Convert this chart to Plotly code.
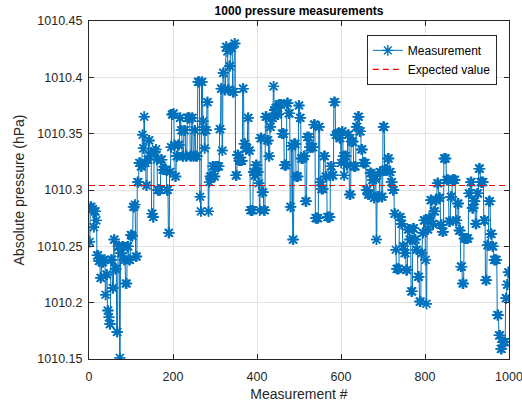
import numpy as np
import plotly.graph_objects as go

# Sample index where each held level starts (measurement #) and the level (hPa)
run_start = [
    0, 2, 6, 10, 12, 16, 18, 22, 26, 29, 34, 38, 40, 43, 46, 48, 51, 55, 58, 61,
    65, 68, 72, 74, 78, 82, 86, 90, 94, 98, 102, 104, 108, 110, 114, 118, 122, 126, 128, 130,
    132, 135, 138, 141, 144, 146, 148, 151, 154, 158, 160, 162, 167, 170, 174, 180, 184, 188, 191, 194,
    196,
    200, 202, 204, 207, 211, 215, 218, 221, 225, 229, 233, 237, 240, 244, 247, 250, 253, 258, 261, 263,
    265, 267, 270, 272, 274, 276, 280, 283, 285, 287, 293, 297, 300, 310, 313, 316, 318, 321, 325, 328,
    330, 333, 336, 341, 345, 348, 352, 356, 365, 368, 372, 377, 380, 383, 390, 393, 396,
    400, 403, 405, 407, 411, 415, 419, 423, 427, 430, 433, 438, 440, 443, 447, 451, 458, 464, 470, 474,
    478, 481, 484, 487, 492, 498, 501, 504, 510, 514, 518, 524, 534, 538, 546, 549, 552, 558, 562, 566,
    574, 578, 582, 586, 590, 595,
    599, 601, 604, 606, 608, 612, 615, 619, 623, 629, 635, 639, 643, 647, 651, 655, 659, 663, 668, 673,
    677, 680, 683, 685, 691, 695, 699, 703, 710, 714, 718, 722, 726, 729, 731, 738, 742, 746, 750, 754,
    758, 762, 766, 770, 774, 778, 782, 786, 790, 793, 796,
    800, 802, 804, 808, 812, 816, 820, 824, 828, 832, 836, 840, 844, 850, 856, 860, 864, 868, 872, 876,
    880, 884, 888, 892, 903, 907, 911, 915, 919, 923, 927, 931, 939, 943, 947, 951, 955, 959, 963, 971,
    975, 979, 983, 991, 994, 997,
]
run_level = [
    1010.254, 1010.285, 1010.283, 1010.267, 1010.281, 1010.273, 1010.242, 1010.237, 1010.222, 1010.236,
    1010.238, 1010.207, 1010.225, 1010.193, 1010.187, 1010.181, 1010.238, 1010.213, 1010.256, 1010.230,
    1010.174, 1010.250, 1010.151, 1010.244, 1010.250, 1010.238, 1010.217, 1010.250, 1010.238, 1010.260,
    1010.259, 1010.285, 1010.287, 1010.241, 1010.307, 1010.324, 1010.321, 1010.349, 1010.337, 1010.365,
    1010.324, 1010.304, 1010.327, 1010.344, 1010.330, 1010.333, 1010.279, 1010.276, 1010.334, 1010.336,
    1010.327, 1010.300, 1010.300, 1010.327, 1010.318, 1010.318, 1010.300, 1010.262, 1010.316, 1010.338,
    1010.367,
    1010.368, 1010.340, 1010.312, 1010.330, 1010.340, 1010.364, 1010.353, 1010.330, 1010.353, 1010.330,
    1010.364, 1010.364, 1010.330, 1010.364, 1010.330, 1010.353, 1010.330, 1010.396, 1010.396, 1010.294,
    1010.281, 1010.396, 1010.361, 1010.353, 1010.337, 1010.353, 1010.378, 1010.281, 1010.307, 1010.312,
    1010.321, 1010.312, 1010.321, 1010.354, 1010.390, 1010.335, 1010.404, 1010.389, 1010.427, 1010.423,
    1010.389, 1010.410, 1010.426, 1010.387, 1010.430, 1010.313, 1010.331, 1010.326, 1010.390, 1010.341,
    1010.337, 1010.364, 1010.335, 1010.282, 1010.316, 1010.313, 1010.322,
    1010.316, 1010.306, 1010.282, 1010.346, 1010.298, 1010.282, 1010.365, 1010.344, 1010.330, 1010.356,
    1010.364, 1010.392, 1010.371, 1010.373, 1010.367, 1010.376, 1010.350, 1010.322, 1010.377, 1010.368,
    1010.285, 1010.339, 1010.256, 1010.341, 1010.312, 1010.375, 1010.364, 1010.328, 1010.330, 1010.290,
    1010.347, 1010.338, 1010.358, 1010.275, 1010.356, 1010.307, 1010.301, 1010.330, 1010.312, 1010.276,
    1010.321, 1010.313, 1010.378, 1010.349, 1010.350, 1010.346,
    1010.324, 1010.352, 1010.330, 1010.313, 1010.330, 1010.322, 1010.349, 1010.296, 1010.343, 1010.321,
    1010.356, 1010.365, 1010.352, 1010.336, 1010.324, 1010.324, 1010.300, 1010.296, 1010.315, 1010.309,
    1010.293, 1010.310, 1010.256, 1010.294, 1010.316, 1010.294, 1010.356, 1010.318, 1010.328, 1010.316,
    1010.307, 1010.300, 1010.279, 1010.247, 1010.230, 1010.276, 1010.270, 1010.250, 1010.244, 1010.229,
    1010.265, 1010.256, 1010.210, 1010.266, 1010.256, 1010.247, 1010.223, 1010.201, 1010.244, 1010.262,
    1010.273,
    1010.238, 1010.199, 1010.265, 1010.275, 1010.291, 1010.270, 1010.281, 1010.291, 1010.306, 1010.293,
    1010.269, 1010.263, 1010.328, 1010.309, 1010.272, 1010.294, 1010.309, 1010.309, 1010.273, 1010.288,
    1010.264, 1010.232, 1010.217, 1010.257, 1010.297, 1010.307, 1010.284, 1010.290, 1010.270, 1010.297,
    1010.319, 1010.307, 1010.273, 1010.220, 1010.251, 1010.290, 1010.261, 1010.250, 1010.238, 1010.189,
    1010.171, 1010.159, 1010.165, 1010.204, 1010.216, 1010.227,
]
n_measurements = 1000
expected_value = 1010.304

x_ticks = [0, 200, 400, 600, 800, 1000]
x_tick_text = ["0", "200", "400", "600", "800", "1000"]
y_ticks = [1010.15, 1010.2, 1010.25, 1010.3, 1010.35, 1010.4, 1010.45]
y_tick_text = ["1010.15", "1010.2", "1010.25", "1010.3", "1010.35", "1010.4", "1010.45"]

counts = np.diff(np.array(run_start + [n_measurements]))
pressure = np.repeat(np.array(run_level), counts)
meas_idx = np.arange(1, len(pressure) + 1)

BLUE = "#0072BD"
AX = "#262626"
RED = "rgb(255,0,0)"
FONT = "Liberation Sans, Arial, Helvetica, sans-serif"

fig = go.Figure()
fig.add_trace(go.Scatter(
    x=meas_idx, y=pressure, mode="lines+markers", name="Measurement",
    line=dict(color=BLUE, width=1),
    marker=dict(symbol="asterisk-open", size=9, color=BLUE,
                line=dict(color=BLUE, width=1.4)),
))
fig.add_trace(go.Scatter(
    x=[0, n_measurements], y=[expected_value, expected_value], mode="lines",
    name="Expected value",
    line=dict(color=RED, width=1.2, dash="6px,4px"),
))

axis_common = dict(
    showline=True, linecolor=AX, linewidth=1, mirror="allticks",
    ticks="inside", ticklen=5, tickcolor=AX, tickwidth=1,
    showgrid=True, gridcolor="#E3E3E3", gridwidth=1, zeroline=False,
    tickfont=dict(family=FONT, size=12.5, color=AX),
    ticklabeloverflow="allow",
)
fig.update_xaxes(range=[0, 1000], tickvals=x_ticks, ticktext=x_tick_text,
                 ticklabelstandoff=6,
                 title=dict(text="Measurement #", font=dict(family=FONT, size=14, color=AX), standoff=8),
                 **axis_common)
fig.update_yaxes(range=[1010.15, 1010.45], tickvals=y_ticks, ticktext=y_tick_text,
                 ticklabelstandoff=3,
                 title=dict(text="Absolute pressure (hPa)", font=dict(family=FONT, size=14, color=AX), standoff=9),
                 **axis_common)

fig.update_layout(
    width=522, height=402,
    margin=dict(l=89, r=13, t=21, b=43, autoexpand=False),
    paper_bgcolor="white", plot_bgcolor="white",
    font=dict(family=FONT, color=AX),
    title=dict(text="<b>1000 pressure measurements</b>", x=0.5, xref="paper",
               y=1 - 11 / 402, yref="container", yanchor="middle",
               font=dict(family=FONT, size=12, color="black")),
    legend=dict(x=0.971, xanchor="right", y=0.959, yanchor="top",
                bgcolor="white", bordercolor=AX, borderwidth=1,
                font=dict(family=FONT, size=12, color="black"),
                tracegroupgap=0, itemwidth=30),
    showlegend=True,
)

fig.write_html("out.html")
